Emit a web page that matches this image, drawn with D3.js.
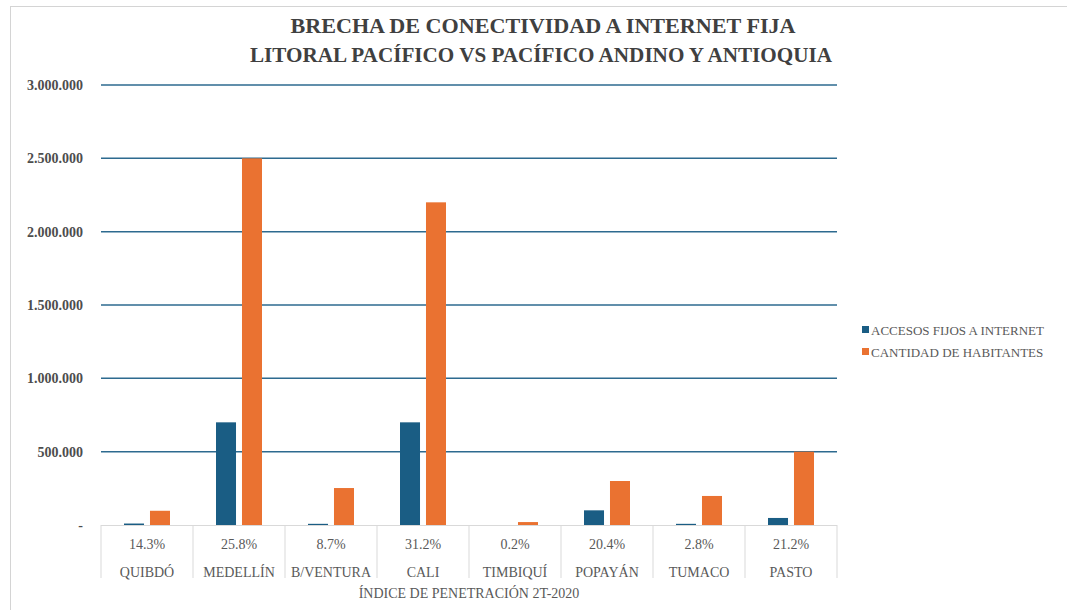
<!DOCTYPE html>
<html>
<head>
<meta charset="utf-8">
<script src="https://cdn.jsdelivr.net/npm/d3@7"></script>
<style>
  body { margin: 0; background: #fff; }
</style>
</head>
<body>
<svg id="chart"></svg>
<script>
const cities = ['QUIBDÓ', 'MEDELLÍN', 'B/VENTURA', 'CALI', 'TIMBIQUÍ', 'POPAYÁN', 'TUMACO', 'PASTO']
const penetration = ['14.3%', '25.8%', '8.7%', '31.2%', '0.2%', '20.4%', '2.8%', '21.2%']
const accesos = [10000, 700000, 8000, 700000, 40, 100000, 8000, 48000]
const habitantes = [97000, 2500000, 252000, 2200000, 20000, 300000, 198000, 500000]
const seriesNames = ['ACCESOS FIJOS A INTERNET', 'CANTIDAD DE HABITANTES']
const yTicks = [0, 500000, 1000000, 1500000, 2000000, 2500000, 3000000]

const width = 1067, height = 610
const margin = { top: 85, left: 101, right: 230, bottom: 85 }
const colors = ['#1a5d84', '#ea7231']
const textGray = '#595959'
const serif = 'Liberation Serif'

const svg = d3.select('#chart').attr('width', width).attr('height', height)
  .style('font-family', serif)

// frame
svg.append('rect')
  .attr('x', 10.5).attr('y', 6.5)
  .attr('width', 1200).attr('height', 800)
  .attr('fill', 'none').attr('stroke', '#d4d4d4')

const locale = d3.formatLocale({ decimal: ',', thousands: '.', grouping: [3], currency: ['$', ''] })
const fmt = locale.format(',d')

// SCALES
const x = d3.scaleBand().domain(cities).range([margin.left, width - margin.right]).padding(0)
const xInner = d3.scaleBand().domain(seriesNames).range([0, x.bandwidth()])
  .paddingInner(0.23).paddingOuter(0.885)
const y = d3.scaleLinear().domain([0, 3000000]).range([height - margin.bottom, margin.top])

// GRID
svg.append('g').selectAll('line').data(yTicks.filter(d => d > 0)).enter()
  .append('line')
  .attr('x1', margin.left).attr('x2', width - margin.right)
  .attr('y1', d => y(d)).attr('y2', d => y(d))
  .attr('stroke', '#2d6a8f').attr('stroke-width', 1.5)

// Y LABELS
svg.append('g').selectAll('text').data(yTicks).enter()
  .append('text')
  .attr('x', 83).attr('y', d => y(d) + 5)
  .attr('text-anchor', 'end')
  .attr('font-size', 14).attr('font-weight', 'bold')
  .attr('fill', '#4d4d4d')
  .text(d => d === 0 ? '-' : fmt(d))

// BARS
const data = cities.map((c, i) => ({ city: c, values: [accesos[i], habitantes[i]] }))
const groups = svg.append('g').selectAll('g').data(data).enter()
  .append('g')
  .attr('transform', d => `translate(${x(d.city)},0)`)
groups.selectAll('rect')
  .data(d => d.values.map((v, j) => ({ key: seriesNames[j], value: v, j })))
  .enter()
  .append('rect')
  .attr('x', d => xInner(d.key))
  .attr('width', xInner.bandwidth())
  .attr('y', d => y(d.value))
  .attr('height', d => y(0) - y(d.value))
  .attr('fill', d => colors[d.j])

// AXIS TABLE
const axisG = svg.append('g')
axisG.append('line')
  .attr('x1', margin.left).attr('x2', width - margin.right)
  .attr('y1', y(0) + 0.5).attr('y2', y(0) + 0.5)
  .attr('stroke', '#d9d9d9')
axisG.selectAll('.sep').data(d3.range(cities.length + 1)).enter()
  .append('line')
  .attr('class', 'sep')
  .attr('x1', i => margin.left + i * x.step()).attr('x2', i => margin.left + i * x.step())
  .attr('y1', y(0)).attr('y2', 578)
  .attr('stroke', '#d9d9d9')
axisG.selectAll('.pct').data(cities).enter()
  .append('text')
  .attr('x', d => x(d) + x.bandwidth() / 2).attr('y', 549)
  .attr('text-anchor', 'middle').attr('font-size', 14).attr('fill', textGray)
  .text((d, i) => penetration[i])
axisG.selectAll('.city').data(cities).enter()
  .append('text')
  .attr('x', d => x(d) + x.bandwidth() / 2).attr('y', 577)
  .attr('text-anchor', 'middle').attr('font-size', 14).attr('fill', textGray)
  .text(d => d)
axisG.append('text')
  .attr('x', (margin.left + width - margin.right) / 2).attr('y', 598)
  .attr('text-anchor', 'middle').attr('font-size', 14).attr('fill', textGray)
  .text('ÍNDICE DE PENETRACIÓN 2T-2020')

// TITLE
const title = svg.append('g')
  .attr('font-weight', 'bold').attr('font-size', 21).attr('fill', '#404040')
title.append('text').attr('x', 543).attr('y', 33).attr('text-anchor', 'middle')
  .attr('textLength', 505).attr('lengthAdjust', 'spacingAndGlyphs')
  .text('BRECHA DE CONECTIVIDAD A INTERNET FIJA')
title.append('text').attr('x', 541).attr('y', 62).attr('text-anchor', 'middle')
  .attr('textLength', 582).attr('lengthAdjust', 'spacingAndGlyphs')
  .text('LITORAL PACÍFICO VS PACÍFICO ANDINO Y ANTIOQUIA')

// LEGEND
const legend = svg.append('g').selectAll('g').data(seriesNames).enter()
  .append('g')
  .attr('transform', (d, i) => `translate(862,${330 + i * 22})`)
legend.append('rect')
  .attr('x', 0).attr('y', -4).attr('width', 7).attr('height', 7)
  .attr('fill', (d, i) => colors[i])
legend.append('text')
  .attr('x', 9).attr('y', 4.5)
  .attr('font-size', 13).attr('fill', textGray)
  .text(d => d)
</script>
</body>
</html>
